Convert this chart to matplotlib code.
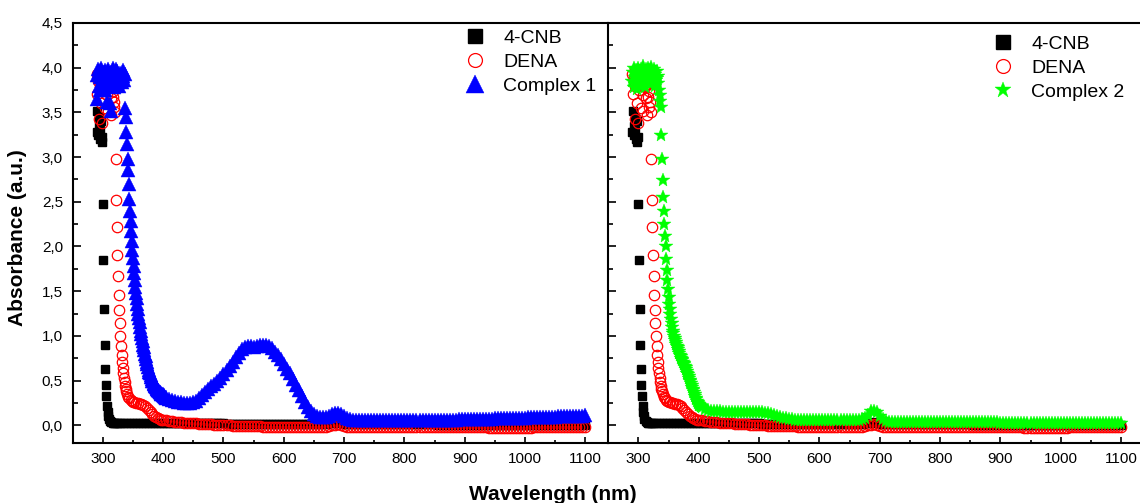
import numpy as np
import matplotlib
matplotlib.use("Agg")
import matplotlib.pyplot as plt
from matplotlib.ticker import MultipleLocator, FuncFormatter

plt.rcParams['font.family'] = ['Liberation Sans', 'DejaVu Sans']

# ---------------- data ----------------
# common tail wavelength grid (nm)
wl_tail = np.arange(405, 1101, 5)

# 4-CNB
cnb_head_wl = [290, 291, 292, 293, 294, 295, 296, 297, 298, 299, 300, 301, 302, 303, 304,
               305, 306, 307, 308, 309, 310, 312, 314, 316, 318, 320, 323, 326, 330, 335,
               340, 345, 350, 355, 360, 365, 370, 375, 380, 385, 390, 395, 400]
cnb_head_abs = [3.28, 3.52, 3.25, 3.35, 3.45, 3.30, 3.20, 3.40, 3.17, 3.23, 2.47, 1.85, 1.30, 0.90, 0.63,
                0.45, 0.33, 0.22, 0.15, 0.10, 0.07, 0.045, 0.035, 0.028, 0.024, 0.022, 0.021, 0.02, 0.02, 0.02,
                0.02, 0.02, 0.02, 0.02, 0.02, 0.02, 0.02, 0.02, 0.02, 0.02, 0.02, 0.02, 0.02]
cnb_tail_abs = [0.020, 0.020, 0.020, 0.020, 0.020, 0.020, 0.020, 0.020, 0.020, 0.020,
                0.020, 0.020, 0.020, 0.020, 0.020, 0.020, 0.020, 0.020, 0.020, 0.020,
                0.019, 0.019, 0.019, 0.019, 0.019, 0.019, 0.019, 0.019, 0.019, 0.019,
                0.018, 0.018, 0.018, 0.018, 0.018, 0.018, 0.018, 0.018, 0.018, 0.018,
                0.018, 0.018, 0.018, 0.018, 0.018, 0.018, 0.018, 0.018, 0.018, 0.018,
                0.018, 0.018, 0.018, 0.018, 0.020, 0.025, 0.030, 0.035, 0.025, 0.015,
                0.012, 0.011, 0.011, 0.010, 0.010, 0.010, 0.010, 0.010, 0.010, 0.010,
                0.010, 0.010, 0.010, 0.010, 0.010, 0.010, 0.010, 0.010, 0.010, 0.010,
                0.009, 0.009, 0.009, 0.009, 0.009, 0.009, 0.009, 0.009, 0.009, 0.009,
                0.008, 0.008, 0.008, 0.008, 0.008, 0.008, 0.008, 0.008, 0.008, 0.008,
                0.008, 0.008, 0.008, 0.008, 0.008, 0.007, 0.007, 0.007, 0.007, 0.007,
                0.007, 0.007, 0.007, 0.007, 0.007, 0.007, 0.007, 0.007, 0.007, 0.007,
                0.006, 0.006, 0.006, 0.006, 0.006, 0.006, 0.006, 0.006, 0.006, 0.006,
                0.006, 0.006, 0.006, 0.006, 0.006, 0.006, 0.006, 0.006, 0.006, 0.006]

# DENA
dena_head_wl = list(range(290, 341)) + [342, 344, 346, 348, 350, 352, 355, 358, 361, 364, 367,
                                        370, 373, 376, 379, 382, 385, 388, 391, 394, 397, 400]
dena_head_abs = [3.93, 3.71, 3.85, 3.90, 3.43, 3.80, 3.95, 3.60, 3.88, 3.38,
                 3.92, 3.75, 3.83, 3.90, 3.55, 3.86, 3.94, 3.70, 3.52, 3.80,
                 3.90, 3.78, 3.85, 3.66, 3.47, 3.82, 3.67, 3.74, 3.56, 3.62,
                 3.50, 2.98, 2.52, 2.22, 1.90, 1.67, 1.46, 1.29, 1.14, 1.00,
                 0.89, 0.79, 0.71, 0.64, 0.58, 0.53, 0.48, 0.44, 0.41, 0.38, 0.35,
                 0.32, 0.30, 0.28, 0.27, 0.26, 0.255, 0.25, 0.245, 0.24, 0.235, 0.225,
                 0.21, 0.195, 0.175, 0.15, 0.125, 0.105, 0.09, 0.078, 0.068, 0.062, 0.058]
dena_tail_abs = [0.055, 0.050, 0.045, 0.040, 0.036, 0.032, 0.029, 0.026, 0.024, 0.022,
                 0.020, 0.018, 0.016, 0.014, 0.012, 0.010, 0.008, 0.006, 0.004, 0.002,
                 0.000, -0.002, -0.004, -0.006, -0.008, -0.010, -0.011, -0.012, -0.012, -0.013,
                 -0.013, -0.013, -0.014, -0.014, -0.014, -0.014, -0.015, -0.015, -0.015, -0.015,
                 -0.015, -0.015, -0.015, -0.015, -0.016, -0.016, -0.016, -0.016, -0.016, -0.016,
                 -0.016, -0.016, -0.015, -0.014, -0.010, -0.002, 0.008, 0.012, 0.004, -0.008,
                 -0.014, -0.016, -0.017, -0.017, -0.018, -0.018, -0.018, -0.018, -0.018, -0.018,
                 -0.018, -0.018, -0.018, -0.018, -0.019, -0.019, -0.019, -0.019, -0.019, -0.019,
                 -0.019, -0.019, -0.020, -0.020, -0.020, -0.020, -0.020, -0.020, -0.020, -0.020,
                 -0.020, -0.020, -0.021, -0.021, -0.021, -0.021, -0.022, -0.022, -0.022, -0.022,
                 -0.022, -0.023, -0.023, -0.023, -0.024, -0.024, -0.024, -0.025, -0.025, -0.025,
                 -0.025, -0.025, -0.025, -0.025, -0.025, -0.025, -0.025, -0.025, -0.025, -0.025,
                 -0.025, -0.025, -0.024, -0.024, -0.024, -0.024, -0.023, -0.023, -0.023, -0.023,
                 -0.023, -0.022, -0.022, -0.022, -0.021, -0.021, -0.021, -0.020, -0.020, -0.020]

# Complex 1
c1_head_wl = list(range(290, 405))
c1_head_abs = [3.65, 3.92, 3.98, 3.80, 3.95, 3.75, 3.90, 4.00, 3.85, 3.78,
               3.95, 3.88, 3.82, 3.97, 3.75, 3.90, 3.85, 3.62, 3.92, 3.98,
               3.80, 3.88, 3.60, 3.95, 3.52, 3.84, 3.90, 4.00, 3.78, 3.93,
               3.86, 3.99, 3.82, 3.90, 3.96, 3.87, 3.92, 3.80, 3.94, 3.85,
               3.88, 3.90, 3.84, 3.97, 3.91, 3.86, 3.93, 3.55, 3.45, 3.28,
               3.15, 2.98, 2.86, 2.70, 2.53, 2.40, 2.28, 2.17, 2.06, 1.96,
               1.87, 1.78, 1.70, 1.62, 1.55, 1.48, 1.42, 1.36, 1.30, 1.25,
               1.20, 1.15, 1.10, 1.06, 1.02, 0.98, 0.94, 0.90, 0.87, 0.84,
               0.80, 0.77, 0.74, 0.71, 0.68, 0.65, 0.62, 0.60, 0.58, 0.56,
               0.54, 0.52, 0.50, 0.49, 0.475, 0.46, 0.45, 0.44, 0.43, 0.42,
               0.41, 0.40, 0.39, 0.38, 0.375, 0.37, 0.36, 0.355, 0.35, 0.345,
               0.34, 0.335, 0.33, 0.32, 0.315]
c1_tail_abs = [0.310, 0.290, 0.280, 0.270, 0.262, 0.255, 0.250, 0.248, 0.250, 0.258,
               0.275, 0.300, 0.335, 0.370, 0.410, 0.440, 0.465, 0.490, 0.530, 0.575,
               0.620, 0.665, 0.710, 0.760, 0.810, 0.850, 0.875, 0.885, 0.885, 0.880,
               0.885, 0.895, 0.900, 0.895, 0.885, 0.860, 0.825, 0.785, 0.740, 0.690,
               0.635, 0.580, 0.520, 0.455, 0.390, 0.325, 0.260, 0.200, 0.155, 0.125,
               0.108, 0.098, 0.095, 0.098, 0.106, 0.122, 0.138, 0.140, 0.125, 0.100,
               0.082, 0.070, 0.064, 0.060, 0.058, 0.057, 0.056, 0.055, 0.055, 0.055,
               0.055, 0.055, 0.055, 0.055, 0.055, 0.056, 0.056, 0.056, 0.056, 0.057,
               0.057, 0.057, 0.058, 0.058, 0.058, 0.059, 0.059, 0.060, 0.060, 0.060,
               0.061, 0.061, 0.062, 0.062, 0.063, 0.064, 0.064, 0.065, 0.066, 0.066,
               0.067, 0.068, 0.069, 0.070, 0.071, 0.072, 0.073, 0.074, 0.075, 0.076,
               0.077, 0.078, 0.079, 0.080, 0.081, 0.082, 0.083, 0.084, 0.085, 0.086,
               0.087, 0.088, 0.089, 0.090, 0.092, 0.093, 0.094, 0.095, 0.097, 0.098,
               0.099, 0.100, 0.102, 0.103, 0.104, 0.105, 0.107, 0.108, 0.109, 0.110]

# Complex 2
c2_head_wl = list(range(290, 405))
c2_head_abs = [3.85, 3.95, 3.78, 4.00, 3.90, 3.82, 3.97, 3.88, 3.76, 3.93,
               4.00, 3.86, 3.92, 3.80, 3.98, 3.90, 3.84, 3.95, 4.02, 3.88,
               3.93, 3.78, 3.99, 3.90, 3.85, 4.00, 3.94, 3.87, 3.97, 3.82,
               3.92, 4.01, 3.88, 3.95, 3.84, 3.98, 3.90, 3.80, 3.93, 3.86,
               3.96, 3.89, 3.83, 3.91, 3.75, 3.69, 3.63, 3.56, 3.25, 2.98,
               2.74, 2.55, 2.40, 2.25, 2.12, 2.00, 1.86, 1.74, 1.62, 1.52,
               1.43, 1.36, 1.30, 1.24, 1.19, 1.14, 1.10, 1.06, 1.03, 1.00,
               0.975, 0.95, 0.93, 0.91, 0.89, 0.87, 0.85, 0.83, 0.81, 0.79,
               0.77, 0.755, 0.74, 0.725, 0.71, 0.695, 0.68, 0.665, 0.65, 0.63,
               0.61, 0.59, 0.57, 0.55, 0.53, 0.51, 0.49, 0.47, 0.45, 0.43,
               0.41, 0.39, 0.37, 0.35, 0.33, 0.31, 0.29, 0.275, 0.26, 0.25,
               0.24, 0.232, 0.225, 0.22, 0.215]
c2_tail_abs = [0.205, 0.185, 0.172, 0.163, 0.158, 0.156, 0.155, 0.154, 0.153, 0.152,
               0.152, 0.151, 0.151, 0.150, 0.150, 0.150, 0.150, 0.150, 0.149, 0.148,
               0.145, 0.140, 0.132, 0.122, 0.112, 0.102, 0.093, 0.085, 0.078, 0.072,
               0.067, 0.063, 0.060, 0.058, 0.056, 0.055, 0.054, 0.054, 0.054, 0.054,
               0.054, 0.055, 0.055, 0.055, 0.056, 0.056, 0.056, 0.056, 0.056, 0.056,
               0.056, 0.057, 0.058, 0.065, 0.085, 0.120, 0.155, 0.165, 0.145, 0.100,
               0.065, 0.048, 0.042, 0.040, 0.039, 0.038, 0.038, 0.037, 0.037, 0.037,
               0.036, 0.036, 0.036, 0.036, 0.035, 0.035, 0.035, 0.035, 0.035, 0.034,
               0.034, 0.034, 0.034, 0.034, 0.033, 0.033, 0.033, 0.033, 0.033, 0.032,
               0.032, 0.032, 0.032, 0.032, 0.031, 0.031, 0.031, 0.031, 0.031, 0.030,
               0.030, 0.030, 0.030, 0.030, 0.030, 0.029, 0.029, 0.029, 0.029, 0.029,
               0.029, 0.029, 0.028, 0.028, 0.028, 0.028, 0.028, 0.028, 0.028, 0.028,
               0.027, 0.027, 0.027, 0.027, 0.027, 0.027, 0.027, 0.027, 0.027, 0.027,
               0.026, 0.026, 0.026, 0.026, 0.026, 0.026, 0.026, 0.026, 0.026, 0.026]

labels_left = ['4-CNB', 'DENA', 'Complex 1']
labels_right = ['4-CNB', 'DENA', 'Complex 2']
x_ticks = [300, 400, 500, 600, 700, 800, 900, 1000, 1100]

cnb_wl = np.concatenate([cnb_head_wl, wl_tail]); cnb_abs = np.concatenate([cnb_head_abs, cnb_tail_abs])
dena_wl = np.concatenate([dena_head_wl, wl_tail]); dena_abs = np.concatenate([dena_head_abs, dena_tail_abs])
c1_wl = np.concatenate([c1_head_wl, wl_tail]); c1_abs = np.concatenate([c1_head_abs, c1_tail_abs])
c2_wl = np.concatenate([c2_head_wl, wl_tail]); c2_abs = np.concatenate([c2_head_abs, c2_tail_abs])

# ---------------- figure ----------------
W, H = 1140, 503
fig = plt.figure(figsize=(W / 100, H / 100), dpi=100)
x0, xdiv, ybot, ytop = 72.7, 608.3, 442.7, 23.0
ax1 = fig.add_axes([x0 / W, (H - ybot) / H, (xdiv - x0) / W, (ybot - ytop) / H])
ax2 = fig.add_axes([xdiv / W, (H - ybot) / H, (W - xdiv) / W, (ybot - ytop) / H])

px_per_nm = (xdiv - x0) / 888.0
ax1.set_xlim(250, 1138)
ax2.set_xlim(250, 250 + (W - xdiv) / px_per_nm)
for ax in (ax1, ax2):
    ax.set_ylim(-0.195, 4.5)

sq = dict(ls='none', marker='s', ms=6.0, color='black', mec='black')
ci = dict(ls='none', marker='o', ms=7.5, mfc='none', mec='red', mew=0.9)
tri = dict(ls='none', marker='^', ms=9.5, color='blue', mec='blue', mew=0.3)
st = dict(ls='none', marker='*', ms=10.5, color='#00ff00', mec='#00ff00', mew=0.3)

h1 = ax1.plot(cnb_wl, cnb_abs, label=labels_left[0], **sq)[0]
h2 = ax1.plot(dena_wl, dena_abs, label=labels_left[1], **ci)[0]
h3 = ax1.plot(c1_wl, c1_abs, label=labels_left[2], **tri)[0]

g1 = ax2.plot(cnb_wl, cnb_abs, label=labels_right[0], **sq)[0]
g2 = ax2.plot(dena_wl, dena_abs, label=labels_right[1], **ci)[0]
g3 = ax2.plot(c2_wl, c2_abs, label=labels_right[2], **st)[0]

comma = FuncFormatter(lambda v, p: ('%.1f' % v).replace('.', ','))
for ax in (ax1, ax2):
    ax.xaxis.set_major_locator(plt.FixedLocator(x_ticks))
    ax.xaxis.set_minor_locator(MultipleLocator(50))
    ax.yaxis.set_major_locator(MultipleLocator(0.5))
    ax.yaxis.set_minor_locator(MultipleLocator(0.25))
    ax.tick_params(axis='x', which='major', direction='in', length=4.5, width=1.2,
                   labelsize=11, pad=7, top=False)
    ax.tick_params(axis='x', which='minor', direction='in', length=2.5, width=1.2, top=False)
    ax.tick_params(axis='y', which='major', direction='in', length=6, width=1.2,
                   labelsize=11, pad=7, right=False)
    ax.tick_params(axis='y', which='minor', direction='in', length=3.5, width=1.2, right=False)
    for s in ('top', 'bottom', 'left'):
        ax.spines[s].set_linewidth(1.5)
    ax.spines['right'].set_visible(False)

ax1.yaxis.set_major_formatter(comma)
ax2.tick_params(axis='y', labelleft=False)

def make_legend(ax, handles, labels, left_px, top_px, sizes):
    leg = ax.legend(handles, labels, loc='upper left',
                    bbox_to_anchor=(left_px / W, 1 - top_px / H),
                    bbox_transform=fig.transFigure, frameon=False, fontsize=14,
                    handlelength=1.0, handletextpad=0.94, labelspacing=0.33,
                    borderpad=0, borderaxespad=0, numpoints=1)
    for lh, s in zip(leg.legend_handles, sizes):
        lh.set_markersize(s)
    return leg

make_legend(ax1, [h1, h2, h3], labels_left, 465.3, 29.5, [9.4, 10, 13])
make_legend(ax2, [g1, g2, g3], labels_right, 993.3, 35.5, [9.4, 10, 12])

fig.text(553 / W, 1 - 494 / H, 'Wavelength (nm)', ha='center', va='center',
         fontsize=15, fontweight='bold')
fig.text(18 / W, 1 - 238 / H, 'Absorbance (a.u.)', ha='center', va='center',
         rotation=90, fontsize=15, fontweight='bold')

fig.savefig('out.png', dpi=100)
